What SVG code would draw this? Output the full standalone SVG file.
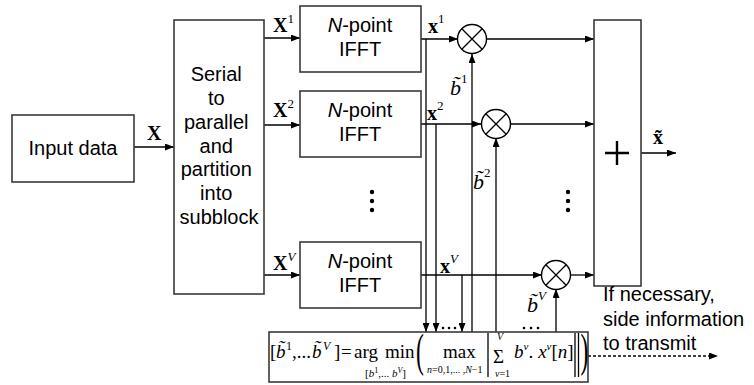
<svg xmlns="http://www.w3.org/2000/svg" width="754" height="385" viewBox="0 0 754 385">
<defs>
<marker id="ah" markerUnits="userSpaceOnUse" markerWidth="9" markerHeight="7" refX="9" refY="3.5" orient="auto">
<path d="M0,0 L9,3.5 L0,7 Z" fill="#000"/>
</marker>
<style>
.box{fill:#fff;stroke:#3a3a3a;stroke-width:1.6}
.ln{fill:none;stroke:#000;stroke-width:1.3}
.arr{fill:none;stroke:#000;stroke-width:1.3;marker-end:url(#ah)}
.dash{fill:none;stroke:#000;stroke-width:1.3;stroke-dasharray:3,2;marker-end:url(#ah)}
.sans{font-family:"Liberation Sans",Arial,sans-serif;font-size:20px;fill:#000}
.ser{font-family:"Liberation Serif","Times New Roman",serif;fill:#000}
.bx{font-family:"Liberation Serif","Times New Roman",serif;font-weight:bold;font-size:20px;fill:#000}
.sup{font-family:"Liberation Serif","Times New Roman",serif;font-size:13px;fill:#000}
.it{font-style:italic}
.mult{fill:#fff;stroke:#000;stroke-width:1.4}
.dot{fill:#000}
</style>
</defs>

<g id="connectors">
<line class="arr" x1="134" y1="147" x2="174" y2="147"/>
<line class="arr" x1="264" y1="38" x2="300" y2="38"/>
<line class="arr" x1="264" y1="125" x2="300" y2="125"/>
<line class="arr" x1="264" y1="275" x2="300" y2="275"/>
<line class="arr" x1="421" y1="39" x2="458" y2="39"/>
<line class="arr" x1="426" y1="39" x2="426" y2="332"/>
<line class="arr" x1="421" y1="124" x2="481" y2="124"/>
<line class="arr" x1="436" y1="124" x2="436" y2="332"/>
<line class="arr" x1="421" y1="275" x2="542" y2="275"/>
<line class="arr" x1="462" y1="275" x2="462" y2="332"/>
<line class="arr" x1="472" y1="332" x2="472" y2="54"/>
<line class="arr" x1="496" y1="332" x2="496" y2="138"/>
<line class="arr" x1="556" y1="332" x2="556" y2="289"/>
<line class="arr" x1="487" y1="39" x2="594" y2="39"/>
<line class="arr" x1="510" y1="124" x2="594" y2="124"/>
<line class="arr" x1="570" y1="275" x2="594" y2="275"/>
<line class="arr" x1="641" y1="153" x2="676" y2="153"/>
<line class="dash" x1="588" y1="356" x2="718" y2="356"/>
</g>

<g id="input">
<rect class="box" x="12" y="115" width="122" height="67"/>
<text class="sans" x="73" y="155" text-anchor="middle">Input data</text>
</g>

<g id="serial">
<rect class="box" x="174" y="20" width="90" height="274"/>
<text class="sans" text-anchor="middle">
<tspan x="219" y="81">Serial</tspan>
<tspan x="219" y="105">to</tspan>
<tspan x="219" y="129">parallel</tspan>
<tspan x="219" y="153">and</tspan>
<tspan x="219" y="176">partition</tspan>
<tspan x="219" y="200">into</tspan>
<tspan x="219" y="224">subblock</tspan>
</text>
</g>

<g id="ifft1">
<rect class="box" x="300" y="6" width="121" height="66"/>
<text class="sans" text-anchor="middle"><tspan x="360" y="32"><tspan class="it">N</tspan>-point</tspan><tspan x="360" y="56">IFFT</tspan></text>
</g>
<g id="ifft2">
<rect class="box" x="300" y="91" width="121" height="66"/>
<text class="sans" text-anchor="middle"><tspan x="360" y="117"><tspan class="it">N</tspan>-point</tspan><tspan x="360" y="141">IFFT</tspan></text>
</g>
<g id="ifftV">
<rect class="box" x="300" y="242" width="121" height="66"/>
<text class="sans" text-anchor="middle"><tspan x="360" y="268"><tspan class="it">N</tspan>-point</tspan><tspan x="360" y="292">IFFT</tspan></text>
</g>

<g id="dots">
<circle class="dot" cx="372" cy="192" r="2.2"/><circle class="dot" cx="372" cy="201" r="2.2"/><circle class="dot" cx="372" cy="210" r="2.2"/>
<circle class="dot" cx="568" cy="192" r="2.2"/><circle class="dot" cx="568" cy="201" r="2.2"/><circle class="dot" cx="568" cy="210" r="2.2"/>
<circle class="dot" cx="443" cy="328" r="1.3"/><circle class="dot" cx="449" cy="328" r="1.3"/><circle class="dot" cx="455" cy="328" r="1.3"/>
<circle class="dot" cx="524" cy="328" r="1.3"/><circle class="dot" cx="531" cy="328" r="1.3"/><circle class="dot" cx="538" cy="328" r="1.3"/>
</g>

<g id="mult1">
<circle class="mult" cx="472" cy="39" r="14.5"/>
<path class="ln" d="M461.8,28.8 L482.2,49.2 M482.2,28.8 L461.8,49.2"/>
</g>
<g id="mult2">
<circle class="mult" cx="496" cy="124" r="14.5"/>
<path class="ln" d="M485.8,113.8 L506.2,134.2 M506.2,113.8 L485.8,134.2"/>
</g>
<g id="multV">
<circle class="mult" cx="556" cy="275" r="14.5"/>
<path class="ln" d="M545.8,264.8 L566.2,285.2 M566.2,264.8 L545.8,285.2"/>
</g>

<g id="sum">
<rect class="box" x="594" y="20" width="47" height="266"/>
<path d="M605,153 L629,153 M617,141 L617,165" stroke="#000" stroke-width="2.4" fill="none"/>
</g>

<g id="labels">
<text class="bx" x="147" y="140">X</text>
<text class="bx" x="273" y="32">X<tspan class="sup" font-weight="normal" dy="-9">1</tspan></text>
<text class="bx" x="273" y="117">X<tspan class="sup" font-weight="normal" dy="-9">2</tspan></text>
<text class="bx" x="273" y="270">X<tspan class="sup it" font-weight="normal" dy="-9">V</tspan></text>
<text class="bx" x="428" y="33">x<tspan class="sup" font-weight="normal" dy="-10">1</tspan></text>
<text class="bx" x="427" y="120">x<tspan class="sup" font-weight="normal" dy="-10">2</tspan></text>
<text class="bx" x="440" y="273">x<tspan class="sup it" font-weight="normal" dy="-10">V</tspan></text>
<text class="bx" x="653" y="144">x̃</text>
<text class="ser it" font-size="22" x="450" y="95">b̃<tspan class="sup" font-style="normal" font-size="14" dy="-12">1</tspan></text>
<text class="ser it" font-size="22" x="473" y="189">b̃<tspan class="sup" font-style="normal" font-size="14" dy="-12">2</tspan></text>
<text class="ser it" font-size="22" x="527" y="312">b̃<tspan class="sup" font-size="14" dy="-12">V</tspan></text>
</g>

<g id="sideinfo">
<text class="sans"><tspan x="603" y="301">If necessary,</tspan><tspan x="603" y="326">side information</tspan><tspan x="603" y="350">to transmit</tspan></text>
</g>

<g id="formula">
<rect class="box" x="269" y="332" width="319" height="50"/>
<text class="ser" font-size="19" y="358"><tspan x="270">[</tspan><tspan class="it" x="276">b̃</tspan><tspan font-size="12" x="286" dy="-8">1</tspan><tspan x="292" dy="8">,...</tspan><tspan class="it" x="312">b̃</tspan><tspan class="it" font-size="12" x="323" dy="-8">V</tspan><tspan x="334" dy="8">]</tspan><tspan x="341">=</tspan><tspan x="354">arg</tspan><tspan x="385">min</tspan><tspan x="443">max</tspan></text>
<text class="ser" font-size="11" y="377"><tspan x="365">[</tspan><tspan class="it">b</tspan><tspan font-size="8" dy="-4">1</tspan><tspan dy="4">,... </tspan><tspan class="it">b</tspan><tspan class="it" font-size="8" dy="-4">V</tspan><tspan dy="4">]</tspan></text>
<text class="ser" font-size="10" y="373" x="427"><tspan class="it">n</tspan>=0,1,... ,<tspan class="it">N</tspan>−1</text>
<text class="ser" font-size="47" transform="translate(416,366) scale(0.5,1)">(</text>
<text class="ser" font-size="47" transform="translate(580.5,366) scale(0.5,1)">)</text>
<line class="ln" x1="488" y1="333" x2="488" y2="377"/>
<line class="ln" x1="575" y1="333" x2="575" y2="377"/>
<line class="ln" x1="578.5" y1="333" x2="578.5" y2="377"/>
<text class="ser" font-size="19" x="493" y="363">Σ</text>
<text class="ser it" font-size="10" x="497" y="340">V</text>
<text class="ser" font-size="10" x="495" y="377"><tspan class="it">v</tspan>=1</text>
<text class="ser" font-size="19" x="514" y="358"><tspan class="it">b</tspan><tspan class="it" font-size="11" dy="-8">v</tspan><tspan dy="8">.</tspan><tspan class="it" dx="5">x</tspan><tspan class="it" font-size="11" dy="-8">v</tspan><tspan dy="8">[</tspan><tspan class="it">n</tspan>]</text>
</g>
</svg>
